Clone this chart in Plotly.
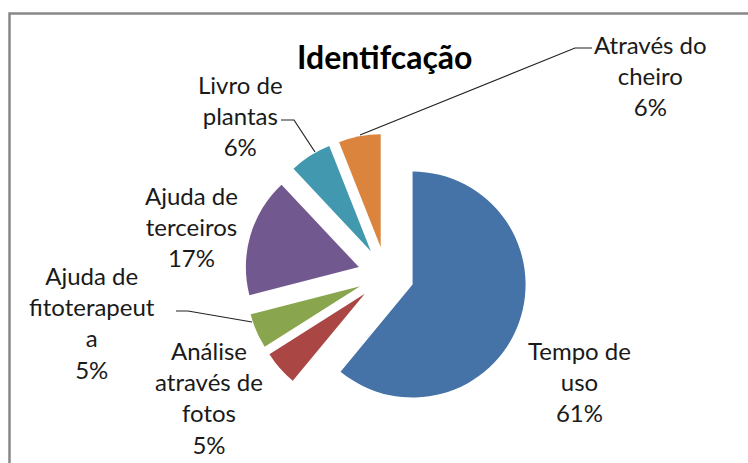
import plotly.graph_objects as go

W, H = 748, 463

categories = [
    "Tempo de uso",
    "Análise através de fotos",
    "Ajuda de fitoterapeuta",
    "Ajuda de terceiros",
    "Livro de plantas",
    "Através do cheiro",
]
values = [61, 5, 5, 17, 6, 6]
label_lines = [
    "Tempo de<br>uso",
    "Análise<br>através de<br>fotos",
    "Ajuda de<br>fitoterapeut<br>a",
    "Ajuda de<br>terceiros",
    "Livro de<br>plantas",
    "Através do<br>cheiro",
]
colors = ["#4572A7", "#AA4643", "#89A54E", "#71588F", "#4198AF", "#DB843D"]

# label block centres in pixels (layout only)
label_pos = [(579, 381), (209, 397), (92, 322), (191, 226), (240, 116), (650, 76)]
# leader lines in pixels, None where Excel drew none
leaders = [
    None,
    None,
    [(176, 311), (188, 311), (252, 322)],
    None,
    [(281, 120), (294, 120), (315, 152)],
    [(592, 48), (575, 48), (360, 135)],
]


def px(x, y):
    return x / W, 1 - y / H


pull = 0.25
radius = 113
cx, cy = 386, 275
half = radius * (1 + pull)

fig = go.Figure(
    go.Pie(
        labels=categories,
        values=values,
        sort=False,
        direction="clockwise",
        rotation=0,
        pull=[pull] * len(values),
        marker=dict(colors=colors, line=dict(width=0)),
        textinfo="none",
        hoverinfo="label+percent",
        domain=dict(
            x=[(cx - half) / W, (cx + half) / W],
            y=[1 - (cy + half) / H, 1 - (cy - half) / H],
        ),
    )
)

total = sum(values)
font = "Lato, 'Open Sans', sans-serif"
for text, v, (x, y) in zip(label_lines, values, label_pos):
    ax, ay = px(x, y)
    fig.add_annotation(
        x=ax, y=ay, xref="paper", yref="paper",
        text=f"{text}<br>{round(100 * v / total)}%",
        showarrow=False, xanchor="center", yanchor="middle",
        font=dict(family=font, size=24, color="#1a1a1a"),
    )

for pts in leaders:
    if pts is None:
        continue
    path = " ".join(
        ("M" if i == 0 else "L") + f"{px(*p)[0]},{px(*p)[1]}" for i, p in enumerate(pts)
    )
    fig.add_shape(type="path", xref="paper", yref="paper", path=path,
                  line=dict(color="#222222", width=1.2))

# chart area border (only top and left visible in the crop)
fig.add_shape(type="rect", xref="paper", yref="paper",
              x0=9.5 / W, y0=-0.05, x1=1.05, y1=1 - 13.5 / H,
              line=dict(color="#888888", width=2.5))

fig.add_annotation(
    x=385 / W, y=1 - 56 / H, xref="paper", yref="paper",
    text="<b>Identifcação</b>", showarrow=False,
    xanchor="center", yanchor="middle",
    font=dict(family=font, size=32, color="#000000"),
)

fig.update_layout(
    width=W, height=H,
    margin=dict(l=0, r=0, t=0, b=0),
    paper_bgcolor="white",
    plot_bgcolor="white",
    showlegend=False,
)

fig.write_html(
    "out.html",
    config={"displayModeBar": False},
    post_script="document.body.style.margin='0px';",
)
